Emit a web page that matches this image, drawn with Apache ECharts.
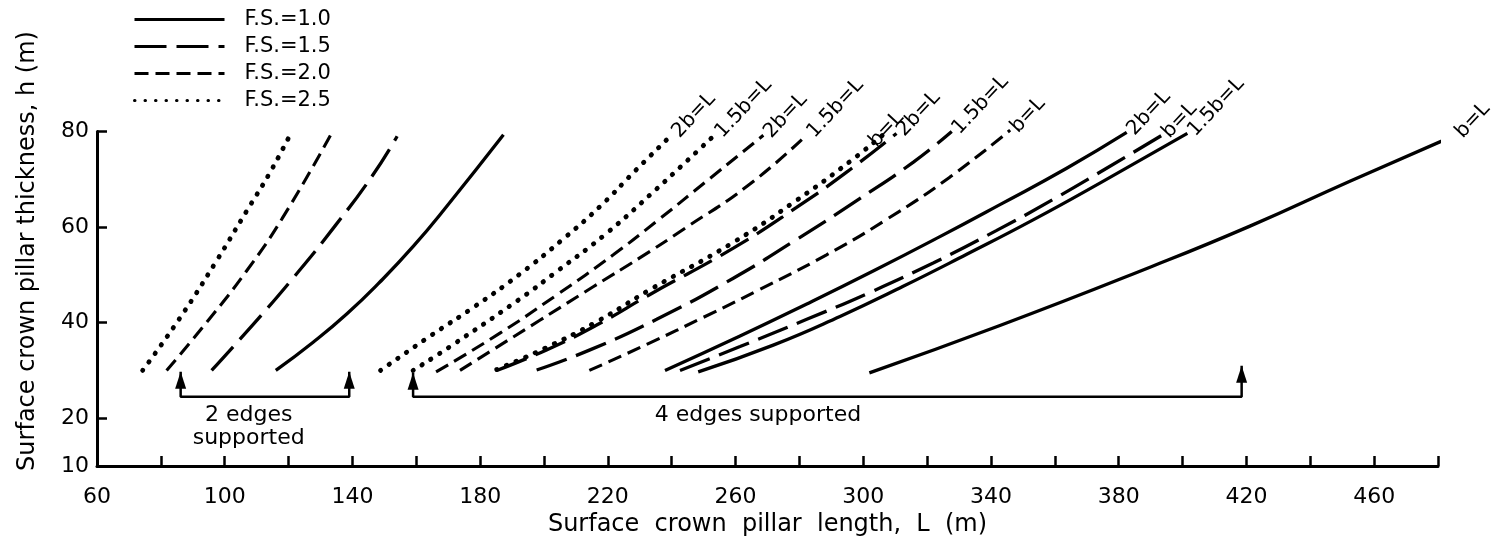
<!DOCTYPE html>
<html>
<head>
<meta charset="utf-8">
<title>Surface crown pillar thickness vs length</title>
<script src="https://cdn.jsdelivr.net/npm/echarts@6/dist/echarts.min.js"></script>
<style>
    html, body { margin: 0; padding: 0; background: #fff; }
    #chart { width: 1498px; height: 551px; }
</style>
</head>
<body>
<div id="chart"></div>
<script>
// axis labels / ticks
const xLabels = [60, 100, 140, 180, 220, 260, 300, 340, 380, 420, 460]
const yLabels = [10, 20, 40, 60, 80]
const yTicks = [20, 40, 60, 80]

const fsNames = ['F.S.=1.0', 'F.S.=1.5', 'F.S.=2.0', 'F.S.=2.5']

// 2 edges supported  [L, h]
const edge2Fs10 = [[116, 30], [127.7, 35.9], [138.2, 41.8], [148.6, 48.5], [159.1, 56], [169.5, 64.3], [187.3, 79.3]]
const edge2Fs15 = [[95.9, 30], [109, 39.7], [121.5, 49.4], [134.5, 60.2], [146.5, 71], [154, 79]]
const edge2Fs20 = [[81.8, 30], [95, 40.6], [106.6, 50.6], [118, 61.8], [133.2, 79.3]]
const edge2Fs25 = [[74.3, 30], [86, 41], [97.5, 53], [106.9, 63.4], [114, 71.2], [120.8, 79.7]]

// 4 edges supported  [L, h]
const fs25b2 = [[148.8, 30], [164.8, 37.4], [177.9, 43.2], [192.5, 50.2], [206, 57.5], [218, 64.6], [228, 71.4], [240, 79.3]]
const fs25b15 = [[159, 30], [170.6, 35], [191.9, 44.7], [204, 50.7], [219.6, 58.7], [235.3, 68], [244.2, 73.5], [253.5, 79.3]]
const fs25b1 = [[185.2, 30.2], [200.8, 34.8], [216.5, 40.2], [233.2, 46.9], [259.3, 56.8], [279.1, 65.6], [295.8, 73.7], [306, 79.2]]
const fs20b2 = [[166.2, 29.7], [186.2, 37.8], [204, 45.8], [221.7, 54.2], [236, 61.6], [250.9, 69.6], [268.7, 79.2]]
const fs20b15 = [[173.7, 30], [198.7, 40.5], [215.4, 47.5], [230.1, 53.6], [243.6, 59.5], [264.5, 69], [282.3, 79.3]]
const fs20b1 = [[214.2, 30], [232.7, 35.6], [249.9, 41.1], [266.6, 46.6], [288.5, 54.2], [307.3, 61.6], [327.2, 70.5], [346, 80.3]]
const fs15b2 = [[185.2, 30], [200.8, 34.3], [216.5, 39.5], [233.2, 45.9], [259.3, 55.6], [279.1, 64.1], [295.8, 72], [310.4, 79.6]]
const fs15b15 = [[197.7, 30.1], [214.4, 34.3], [235.3, 40.7], [259.3, 49.3], [279.1, 57.4], [299, 66], [315.7, 73.6], [327.7, 80]]
const fs15b1 = [[242.6, 30], [261.4, 35], [282.3, 40.7], [301, 46], [321.9, 52.5], [341.8, 59.3], [359.5, 65.8], [376.2, 72.3], [393.5, 79.2]]
const fs10b2 = [[237.9, 30], [261.4, 37.2], [282.3, 43.9], [303.1, 50.8], [324, 58], [342.8, 64.7], [363.7, 72.3], [382.5, 79.8]]
const fs10b15 = [[248.3, 29.7], [271.8, 35.3], [292.7, 41.3], [312.5, 47.6], [332.4, 54.3], [353.2, 61.5], [374.1, 69.2], [401.5, 79.6]]
const fs10b1 = [[301.9, 29.5], [342.8, 39.4], [389.8, 51.6], [421.1, 60.2], [452.4, 69.6], [485.3, 79.2]]

// support brackets with arrows, notes
const bracket2 = [[86.2, 29.7], [86.2, 24.5], [139, 24.5], [139, 29.7]]
const bracket4 = [[159, 29.5], [159, 24.5], [418.5, 24.5], [418.5, 31]]
const noteTexts = ['2 edges\nsupported', '4 edges supported']
const notePos = [[107.5, 18.3], [267, 20.7]]

const font = 'DejaVu Sans'
const black = '#000'

const dash = {
    'F.S.=1.0': {type: 'solid', width: 3.3},
    'F.S.=1.5': {type: [32, 10], width: 3.3},
    'F.S.=2.0': {type: [14, 7], width: 3.1},
    'F.S.=2.5': {type: [0.5, 10], cap: 'round', width: 4.8},
}

const curve = (name, pts) => ({
    name: name,
    type: 'line',
    data: pts,
    symbol: 'none',
    showSymbol: false,
    smooth: 0.5,
    clip: false,
    silent: true,
    itemStyle: {color: black},
    lineStyle: Object.assign({color: black}, dash[name]),
    z: 3,
})

// 4-edge curves with their end tags
const fourEdge = [
    ['F.S.=2.5', fs25b2, '2b=L'],
    ['F.S.=2.5', fs25b15, '1.5b=L'],
    ['F.S.=2.0', fs20b2, '2b=L'],
    ['F.S.=2.0', fs20b15, '1.5b=L'],
    ['F.S.=2.5', fs25b1, 'b=L'],
    ['F.S.=1.5', fs15b2, '2b=L'],
    ['F.S.=1.5', fs15b15, '1.5b=L'],
    ['F.S.=2.0', fs20b1, 'b=L'],
    ['F.S.=1.0', fs10b2, '2b=L'],
    ['F.S.=1.5', fs15b1, 'b=L'],
    ['F.S.=1.0', fs10b15, '1.5b=L'],
    ['F.S.=1.0', fs10b1, 'b=L'],
]

const series = [
    curve('F.S.=1.0', edge2Fs10),
    curve('F.S.=1.5', edge2Fs15),
    curve('F.S.=2.0', edge2Fs20),
    curve('F.S.=2.5', edge2Fs25),
]
fourEdge.forEach((c) => series.push(curve(c[0], c[1])))

// tags at curve ends
series.push({
    type: 'scatter',
    symbolSize: 0,
    clip: false,
    silent: true,
    itemStyle: {opacity: 1},
    data: fourEdge.map((c) => {
        const item = {value: c[1][c[1].length - 1], name: c[2]}
        if (c[0] === 'F.S.=2.5' && c[2] === 'b=L') {
            item.label = {offset: [-16, -4]}
        }
        return item
    }),
    label: {
        show: true,
        position: 'right',
        distance: 4,
        rotate: 47,
        formatter: '{b}',
        color: black,
        opacity: 1,
        fontSize: 20,
        fontFamily: font,
    },
    z: 5,
})

// brackets
;[bracket2, bracket4].forEach((b) => {
    series.push({
        type: 'line',
        data: b,
        symbol: 'none',
        silent: true,
        itemStyle: {color: black},
        lineStyle: {color: black, width: 2.5},
        z: 2,
    })
})
series.push({
    type: 'scatter',
    silent: true,
    symbol: 'triangle',
    symbolSize: [11, 17],
    symbolOffset: [0, '50%'],
    itemStyle: {color: black, opacity: 1},
    data: [bracket2[0], bracket2[3], bracket4[0], bracket4[3]],
    z: 4,
})
series.push({
    type: 'scatter',
    symbolSize: 0,
    silent: true,
    itemStyle: {opacity: 1},
    data: notePos.map((p, i) => ({value: p, name: noteTexts[i]})),
    label: {
        show: true,
        position: 'inside',
        formatter: '{b}',
        color: black,
        opacity: 1,
        fontSize: 22,
        lineHeight: 23,
        fontFamily: font,
    },
})

const chart = echarts.init(document.getElementById('chart'))
chart.setOption({
    animation: false,
    backgroundColor: '#fff',
    textStyle: {fontFamily: font},
    grid: {left: 97, right: 60, top: 131.5, bottom: 85, outerBoundsMode: 'none'},
    legend: {
        data: fsNames,
        orient: 'vertical',
        left: 133,
        top: 9,
        padding: 0,
        itemWidth: 90,
        itemHeight: 14,
        itemGap: 6,
        selectedMode: false,
        itemStyle: {color: 'rgba(0,0,0,0)', borderWidth: 0, opacity: 0},
        lineStyle: {color: black, width: 3},
        textStyle: {color: black, fontSize: 21, lineHeight: 20, fontFamily: font, padding: [0, 0, 0, 15]},
    },
    xAxis: {
        type: 'value',
        min: 60,
        max: 480,
        interval: 20,
        name: 'Surface  crown  pillar  length,  L  (m)',
        nameLocation: 'middle',
        nameGap: 44,
        nameTextStyle: {color: black, fontSize: 24, fontFamily: font},
        axisLine: {show: true, onZero: false, lineStyle: {color: black, width: 3}},
        axisTick: {show: true, inside: true, length: 10, lineStyle: {color: black, width: 2.5}},
        axisLabel: {
            color: black,
            fontSize: 22,
            margin: 20,
            fontFamily: font,
            formatter: (v) => (xLabels.includes(v) ? String(v) : ''),
        },
        splitLine: {show: false},
    },
    yAxis: {
        type: 'value',
        min: 10,
        max: 80,
        interval: 10,
        axisLine: {show: true, onZero: false, lineStyle: {color: black, width: 3}},
        axisTick: {show: true, inside: true, length: 10, customValues: yTicks, lineStyle: {color: black, width: 2.5}},
        axisLabel: {
            color: black,
            fontSize: 22,
            margin: 8,
            fontFamily: font,
            formatter: (v) => (yLabels.includes(v) ? String(v) : ''),
        },
        splitLine: {show: false},
    },
    graphic: [{
        type: 'text',
        x: 28,
        y: 251,
        rotation: Math.PI / 2,
        style: {
            text: 'Surface crown pillar thickness, h (m)',
            fill: black,
            font: '24px "DejaVu Sans"',
            textAlign: 'center',
            textVerticalAlign: 'middle',
            align: 'center',
            verticalAlign: 'middle',
        },
    }],
    series: series,
})
</script>
</body>
</html>
